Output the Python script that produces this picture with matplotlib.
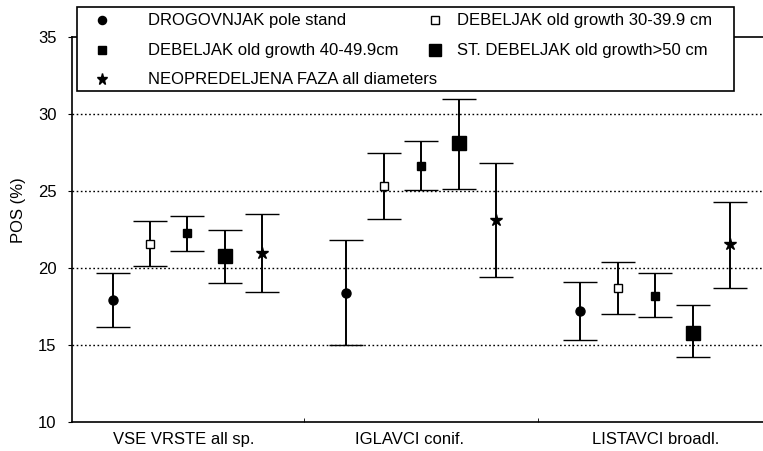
import matplotlib.pyplot as plt
from matplotlib.lines import Line2D
from matplotlib.patches import Rectangle
import numpy as np

plt.rcParams['font.family'] = ['Liberation Sans', 'DejaVu Sans']

groups = ['VSE VRSTE all sp.', 'IGLAVCI conif.', 'LISTAVCI broadl.']
series = ['DROGOVNJAK pole stand',
          'DEBELJAK old growth 30-39.9 cm',
          'DEBELJAK old growth 40-49.9cm',
          'ST. DEBELJAK old growth>50 cm',
          'NEOPREDELJENA FAZA all diameters']

# mean, lower, upper for each series across the three groups
means = [[17.9, 18.4, 17.2],
         [21.55, 25.3, 18.7],
         [22.25, 26.65, 18.2],
         [20.75, 28.1, 15.8],
         [21.0, 23.1, 21.55]]
lower = [[16.15, 15.0, 15.35],
         [20.1, 23.2, 17.0],
         [21.1, 25.05, 16.8],
         [19.05, 25.1, 14.2],
         [18.45, 19.4, 18.7]]
upper = [[19.7, 21.8, 19.1],
         [23.05, 27.45, 20.4],
         [23.35, 28.25, 19.65],
         [22.45, 31.0, 17.6],
         [23.5, 26.8, 24.3]]

markers = ['o', 's', 's', 's', '*']
msizes = [6.5, 6, 6, 9.5, 9]
faces = ['black', 'white', 'black', 'black', 'black']
offsets = [-0.32, -0.16, 0.0, 0.16, 0.32]

W, H = 763, 451
fig = plt.figure(figsize=(W / 100, H / 100), dpi=100)
ax = fig.add_axes([0.0944, 0.0643, 0.9056, 0.8537])

x = np.arange(1, len(groups) + 1)
for i in range(len(series)):
	m = np.array(means[i])
	lo = m - np.array(lower[i])
	hi = np.array(upper[i]) - m
	ax.errorbar(x + offsets[i], m, yerr=[lo, hi], fmt=markers[i],
				ms=msizes[i], mfc=faces[i], mec='black', mew=1.0,
				ecolor='black', elinewidth=1.4, capsize=12.5, capthick=1.6,
				color='black', zorder=3)

for yv in [15, 20, 25, 30]:
	ax.axhline(yv, color='black', lw=1.0, ls=(0, (1.2, 1.8)), zorder=1)

ax.set_xlim(0.507, 3.46)
ax.set_ylim(10, 35)
ax.set_yticks([10, 15, 20, 25, 30, 35])
ax.set_xticks([0.985, 1.95, 3.0])
ax.set_xticklabels(groups, fontsize=12)
ax.set_xticks([1.5, 2.5], minor=True)
ax.tick_params(axis='x', which='major', length=0, pad=7)
ax.tick_params(axis='x', which='minor', direction='in', length=3)
ax.tick_params(axis='y', length=3, labelsize=12, pad=8)
ax.set_ylabel('POS (%)', fontsize=12)
ax.yaxis.set_label_coords(-0.066, 0.55)
ax.spines['right'].set_visible(False)
for s in ['left', 'bottom', 'top']:
	ax.spines[s].set_linewidth(1.2)

# legend box drawn by hand (two columns, uneven spacing as in the original)
def fx(px):
	return px / W

def fy(py):
	return 1 - py / H

fig.add_artist(Rectangle((fx(77), fy(91)), fx(734) - fx(77), fy(7) - fy(91),
						 transform=fig.transFigure, fc='white', ec='black',
						 lw=1.2, zorder=5))
slots = [(102, 148, 20), (435, 457, 20), (102, 148, 50), (435, 457, 50), (102, 148, 79)]
order = [0, 1, 2, 3, 4]
for k, (mx, tx, ty) in zip(order, slots):
	fig.add_artist(Line2D([fx(mx)], [fy(ty)], transform=fig.transFigure, ls='none',
						  marker=markers[k], ms=msizes[k] * 0.9, mfc=faces[k],
						  mec='black', mew=1.0, zorder=6))
	fig.text(fx(tx), fy(ty), series[k], fontsize=12, va='center', ha='left', zorder=6)

fig.savefig('out.png', dpi=100)
